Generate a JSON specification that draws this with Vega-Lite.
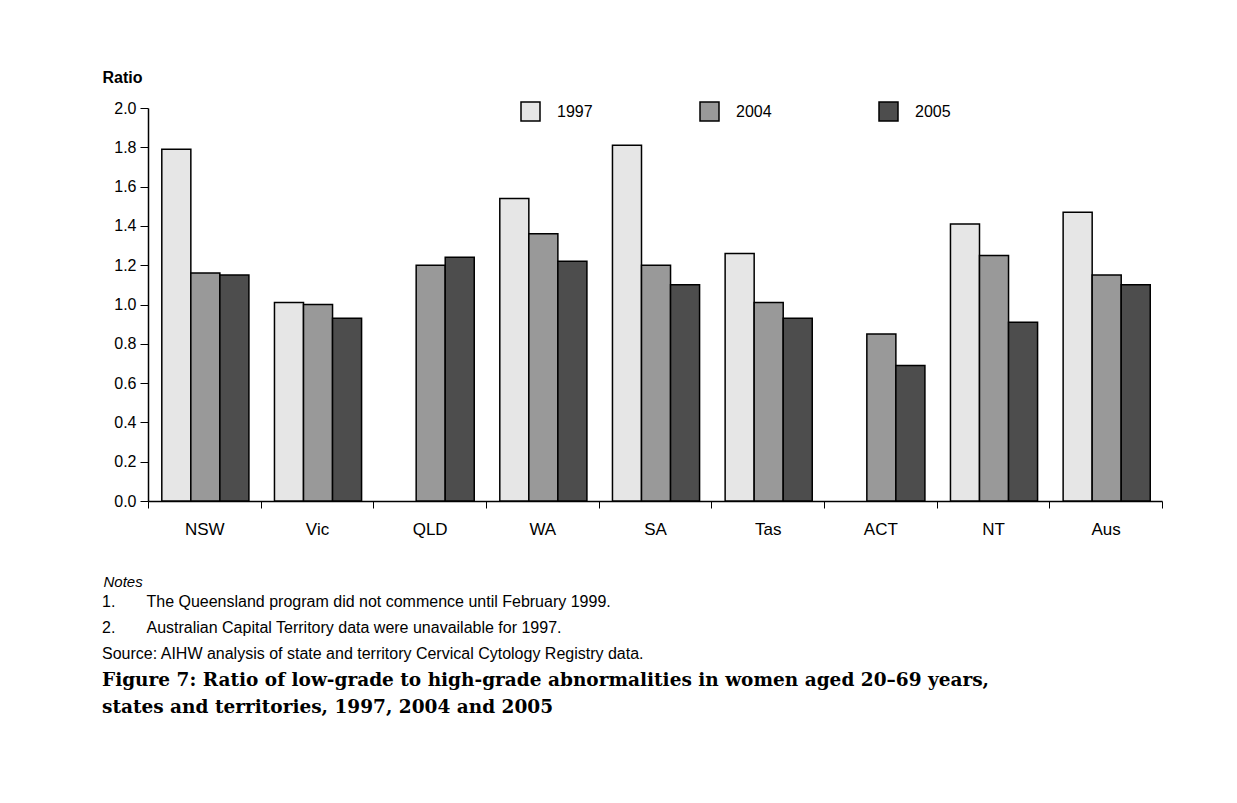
{
  "$schema": "https://vega.github.io/schema/vega-lite/v6.json",
  "width": 1014,
  "height": 393,
  "autosize": {"type": "none"},
  "padding": {"left": 148, "top": 108, "right": 75, "bottom": 302},
  "background": "white",
  "config": {"view": {"stroke": null}, "font": "Liberation Sans"},
  "data": {
    "values": [
      {"state": "NSW", "year": "1997", "ratio": 1.79},
      {"state": "NSW", "year": "2004", "ratio": 1.16},
      {"state": "NSW", "year": "2005", "ratio": 1.15},
      {"state": "Vic", "year": "1997", "ratio": 1.01},
      {"state": "Vic", "year": "2004", "ratio": 1.0},
      {"state": "Vic", "year": "2005", "ratio": 0.93},
      {"state": "QLD", "year": "2004", "ratio": 1.2},
      {"state": "QLD", "year": "2005", "ratio": 1.24},
      {"state": "WA", "year": "1997", "ratio": 1.54},
      {"state": "WA", "year": "2004", "ratio": 1.36},
      {"state": "WA", "year": "2005", "ratio": 1.22},
      {"state": "SA", "year": "1997", "ratio": 1.81},
      {"state": "SA", "year": "2004", "ratio": 1.2},
      {"state": "SA", "year": "2005", "ratio": 1.1},
      {"state": "Tas", "year": "1997", "ratio": 1.26},
      {"state": "Tas", "year": "2004", "ratio": 1.01},
      {"state": "Tas", "year": "2005", "ratio": 0.93},
      {"state": "ACT", "year": "2004", "ratio": 0.85},
      {"state": "ACT", "year": "2005", "ratio": 0.69},
      {"state": "NT", "year": "1997", "ratio": 1.41},
      {"state": "NT", "year": "2004", "ratio": 1.25},
      {"state": "NT", "year": "2005", "ratio": 0.91},
      {"state": "Aus", "year": "1997", "ratio": 1.47},
      {"state": "Aus", "year": "2004", "ratio": 1.15},
      {"state": "Aus", "year": "2005", "ratio": 1.1}
    ]
  },
  "mark": {"type": "bar", "stroke": "black", "strokeWidth": 1.5},
  "encoding": {
    "x": {
      "field": "state",
      "type": "nominal",
      "sort": ["NSW", "Vic", "QLD", "WA", "SA", "Tas", "ACT", "NT", "Aus"],
      "scale": {"paddingInner": 0, "paddingOuter": 0},
      "axis": {
        "title": "Notes",
        "labelAngle": 0,
        "tickBand": "extent",
        "domainColor": "black",
        "domainWidth": 1.5,
        "tickColor": "black",
        "tickWidth": 1,
        "tickSize": 7,
        "labelFontSize": 17,
        "labelColor": "black",
        "labelPadding": 13,
        "titleFontStyle": "italic",
        "titleFontWeight": "normal",
        "titleFontSize": 15,
        "titleColor": "black",
        "titleAnchor": "start",
        "titleAlign": "left",
        "titleBaseline": "middle",
        "titleX": -45,
        "titleY": 80
      }
    },
    "xOffset": {
      "field": "year",
      "type": "nominal",
      "scale": {"paddingInner": 0, "paddingOuter": 0.44, "align": 0.54}
    },
    "y": {
      "field": "ratio",
      "type": "quantitative",
      "scale": {"domain": [0, 2]},
      "axis": {
        "values": [0, 0.2, 0.4, 0.6, 0.8, 1.0, 1.2, 1.4, 1.6, 1.8, 2.0],
        "format": ".1f",
        "grid": false,
        "title": "Ratio",
        "titleAngle": 0,
        "titleAlign": "left",
        "titleBaseline": "middle",
        "titleX": -46,
        "titleY": -31,
        "titleFontSize": 16,
        "titleFontWeight": "bold",
        "titleColor": "black",
        "labelFontSize": 16,
        "labelColor": "black",
        "labelPadding": 4,
        "tickSize": 8,
        "tickColor": "black",
        "domainColor": "black",
        "domainWidth": 1.5
      }
    },
    "color": {
      "field": "year",
      "type": "nominal",
      "scale": {"domain": ["1997", "2004", "2005"], "range": ["#e6e6e6", "#999999", "#4d4d4d"]},
      "legend": {
        "title": null,
        "orient": "none",
        "legendX": 372,
        "legendY": -7,
        "direction": "horizontal",
        "columns": 3,
        "columnPadding": 104,
        "padding": 0,
        "symbolType": "square",
        "symbolSize": 361,
        "symbolStrokeColor": "black",
        "symbolStrokeWidth": 1.5,
        "symbolOpacity": 1,
        "labelFontSize": 16,
        "labelColor": "black",
        "labelOffset": 16
      }
    }
  },
  "title": {
    "text": [
      "1.\u00a0\u00a0\u00a0\u00a0\u00a0\u00a0\u00a0The Queensland program did not commence until February 1999.",
      "2.\u00a0\u00a0\u00a0\u00a0\u00a0\u00a0\u00a0Australian Capital Territory data were unavailable for 1997.",
      "Source: AIHW analysis of state and territory Cervical Cytology Registry data."
    ],
    "subtitle": [
      "Figure 7: Ratio of low-grade to high-grade abnormalities in women aged 20–69 years,",
      "states and territories, 1997, 2004 and 2005"
    ],
    "orient": "bottom",
    "anchor": "start",
    "frame": "bounds",
    "offset": 5,
    "font": "Liberation Sans",
    "fontSize": 16,
    "fontWeight": "normal",
    "color": "black",
    "lineHeight": 26,
    "subtitleFont": "DejaVu Serif",
    "subtitleFontSize": 18.5,
    "subtitleFontWeight": "bold",
    "subtitleColor": "black",
    "subtitleLineHeight": 27,
    "subtitlePadding": 9
  }
}
